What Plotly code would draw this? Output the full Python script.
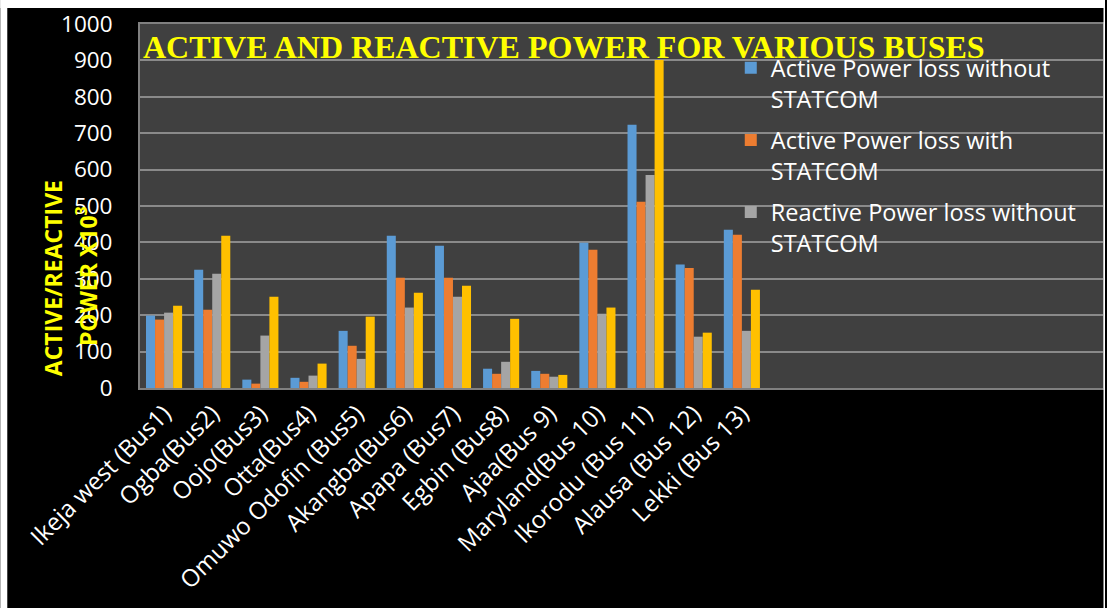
import plotly.graph_objects as go

# Bus names (x categories)
buses = ["Ikeja west (Bus1)", "Ogba(Bus2)", "Oojo(Bus3)", "Otta(Bus4)",
         "Omuwo Odofin (Bus5)", "Akangba(Bus6)", "Apapa (Bus7)", "Egbin (Bus8)",
         "Ajaa(Bus 9)", "Maryland(Bus 10)", "Ikorodu (Bus 11)", "Alausa (Bus 12)",
         "Lekki (Bus 13)"]

# Losses per bus (x10^3)
active_without = [199, 325, 23, 28, 157, 418, 391, 53, 47, 399, 723, 339, 435]
active_with = [188, 215, 12, 17, 116, 303, 303, 39, 39, 380, 512, 330, 421]
reactive_without = [207, 314, 144, 34, 80, 221, 251, 72, 31, 204, 585, 141, 157]
reactive_with = [226, 418, 251, 67, 196, 262, 281, 190, 36, 221, 901, 152, 270]

y_ticks = [0, 100, 200, 300, 400, 500, 600, 700, 800, 900, 1000]

series = [
    ("Active Power loss without<br>STATCOM", active_without, "#5B9BD5", True),
    ("Active Power loss with<br>STATCOM", active_with, "#ED7D31", True),
    ("Reactive Power loss without<br>STATCOM", reactive_without, "#A5A5A5", True),
    ("Reactive Power loss with<br>STATCOM", reactive_with, "#FFC000", False),
]

fig = go.Figure()
for i, (name, vals, color, show) in enumerate(series):
    fig.add_trace(go.Bar(x=buses, y=vals, name=name, showlegend=show,
                         legendgroup=f"g{i}",
                         marker=dict(color=color, line=dict(width=0))))

W, H = 1107, 608
ml, mr, mt, mb = 140, 2, 24, 220
pw, ph = W - ml - mr, H - mt - mb

def px(xp):
    return (xp - ml) / pw

def py(yp):
    return (H - mb - yp) / ph

sans = "Open Sans"

fig.update_layout(
    width=W, height=H,
    margin=dict(l=ml, r=mr, t=mt, b=mb, pad=0),
    paper_bgcolor="black",
    plot_bgcolor="#404040",
    barmode="group",
    bargap=0.25,
    bargroupgap=0,
    showlegend=True,
    legend=dict(
        x=px(732), y=py(46), xanchor="left", yanchor="top",
        bgcolor="rgba(0,0,0,0)",
        font=dict(family=sans, size=23.5, color="white"),
        valign="top",
        traceorder="grouped",
        tracegroupgap=8,
    ),
    xaxis=dict(
        type="category",
        range=[-0.5, 19.5],
        tickangle=-45,
        tickfont=dict(family=sans, size=24, color="white"),
        showgrid=False,
        showline=True, linecolor="#808080", linewidth=2, mirror=True,
        ticks="",
    ),
    yaxis=dict(
        range=[0, 1000],
        tickvals=y_ticks,
        tickfont=dict(family=sans, size=22.5, color="white"),
        showgrid=True, gridcolor="#8a8a8a", gridwidth=2,
        zeroline=False,
        showline=True, linecolor="#808080", linewidth=2, mirror=True,
        ticks="",
        ticklabelstandoff=21,
    ),
    annotations=[
        dict(text="<b>ACTIVE AND REACTIVE POWER FOR VARIOUS BUSES</b>",
             xref="paper", yref="paper", x=px(141), y=py(47),
             xanchor="left", yanchor="middle", showarrow=False,
             font=dict(family="Liberation Serif", size=32, color="#FFFF00")),
        dict(text="<b>ACTIVE/REACTIVE</b>",
             xref="paper", yref="paper", x=px(53), y=py(278),
             xanchor="center", yanchor="middle", showarrow=False, textangle=-90,
             font=dict(family=sans, size=23, color="#FFFF00")),
        dict(text="<b>POWER X10<sup>3</sup></b>",
             xref="paper", yref="paper", x=px(87), y=py(276),
             xanchor="center", yanchor="middle", showarrow=False, textangle=-90,
             font=dict(family=sans, size=23, color="#FFFF00")),
    ],
    shapes=[
        # white frame strips around the black canvas
        dict(type="rect", xref="paper", yref="paper", x0=px(0), x1=px(W),
             y0=py(8), y1=py(0), fillcolor="white", line=dict(width=0), layer="above"),
        dict(type="rect", xref="paper", yref="paper", x0=px(0), x1=px(7),
             y0=py(H), y1=py(0), fillcolor="white", line=dict(width=0), layer="above"),
        dict(type="rect", xref="paper", yref="paper", x0=px(1105.5), x1=px(W),
             y0=py(H), y1=py(0), fillcolor="white", line=dict(width=0), layer="above"),
    ],
)

fig.write_html("out.html")
